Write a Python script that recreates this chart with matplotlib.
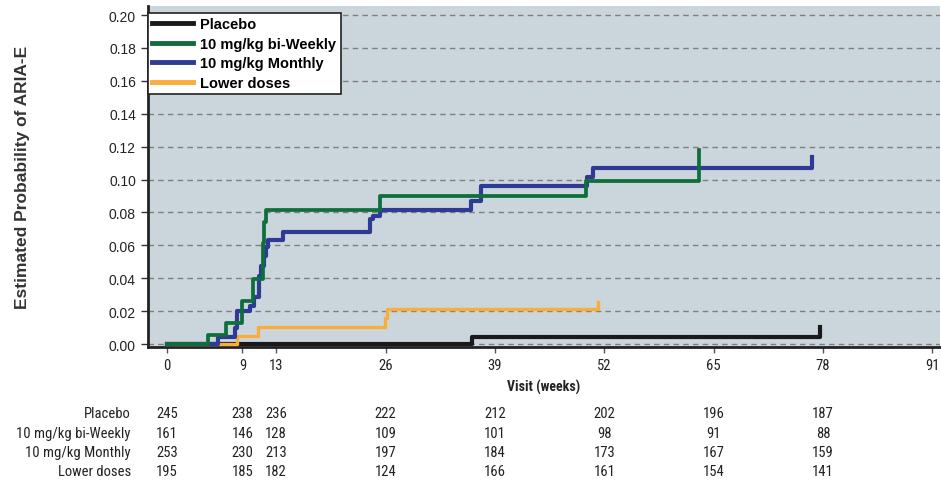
import matplotlib
matplotlib.use('Agg')
from matplotlib import pyplot as plt
from matplotlib.transforms import blended_transform_factory

# Kaplan-Meier style step curves (weeks, cumulative probability)
placebo_t = [0, 36.3, 77.6]
placebo_p = [0, 0.004, 0.0101]

biweekly_t = [0, 4.9, 7.1, 8.9, 10.25, 11.4, 11.6, 11.8, 25.4, 49.8, 63.2]
biweekly_p = [0, 0.0055, 0.0128, 0.0263, 0.0395, 0.0614, 0.074, 0.0816, 0.0898, 0.0993, 0.118]

monthly_t = [0, 6.1, 8.1, 8.3, 9.86, 10.4, 10.96, 11.2, 11.5, 11.76, 12.0, 13.8,
             24.1, 24.5, 25.4, 36.2, 37.3, 50.0, 50.7, 76.7]
monthly_p = [0, 0.004, 0.0097, 0.020, 0.023, 0.0285, 0.0415, 0.0476, 0.0537, 0.0588, 0.0634, 0.0679,
             0.076, 0.078, 0.0816, 0.087, 0.0962, 0.1013, 0.107, 0.114]

lower_t = [0, 8.3, 10.9, 25.9, 26.2, 51.3]
lower_p = [0, 0.005, 0.0101, 0.0156, 0.0213, 0.0253]

# number at risk table
risk_weeks = [0, 9, 13, 26, 39, 52, 65, 78]
risk_groups = ['Placebo', '10 mg/kg bi-Weekly', '10 mg/kg Monthly', 'Lower doses']
risk_placebo = [245, 238, 236, 222, 212, 202, 196, 187]
risk_biweekly = [161, 146, 128, 109, 101, 98, 91, 88]
risk_monthly = [253, 230, 213, 197, 184, 173, 167, 159]
risk_lower = [195, 185, 182, 124, 166, 161, 154, 141]

x_ticks = [0, 9, 13, 26, 39, 52, 65, 78, 91]
y_ticks = [0.00, 0.02, 0.04, 0.06, 0.08, 0.10, 0.12, 0.14, 0.16, 0.18, 0.20]

NARROW = ['Roboto Condensed', 'Liberation Sans']
plt.rcParams['font.family'] = ['Liberation Sans', 'DejaVu Sans']

fig = plt.figure(figsize=(9.41, 4.81), dpi=100)
ax = fig.add_axes([0.157, 0.2765, 0.842, 0.709])
ax.set_facecolor('#cbd5dc')

ax.step(placebo_t, placebo_p, where='post', color='#1a1a1a', lw=3, zorder=3, label='Placebo')
ax.step(biweekly_t, biweekly_p, where='post', color='#0f6e3c', lw=2.7, zorder=6, label='10 mg/kg bi-Weekly')
ax.step(monthly_t, monthly_p, where='post', color='#2e3a94', lw=3, zorder=5, label='10 mg/kg Monthly')
ax.step(lower_t, lower_p, where='post', color='#f9ad3c', lw=2.4, zorder=4, label='Lower doses')

ax.set_xlim(-2.26, 91.9)
ax.set_ylim(-0.0018, 0.2055)
ax.set_yticks(y_ticks)
ax.set_yticklabels([f'{v:.2f}' for v in y_ticks], fontsize=10, color='#222222')
ax.set_xticks(x_ticks)
ax.set_xticklabels([str(v) for v in x_ticks], fontsize=10.5, family=NARROW, color='#222222')
ax.tick_params(axis='y', length=5, width=1, color='#333333')
ax.tick_params(axis='x', length=4, width=1, color='#555555', pad=4)

ax.grid(True, axis='y', linestyle=(0, (4, 3)), color='#7f7f7f', linewidth=1)
ax.set_axisbelow(True)
for side in ['top', 'right']:
    ax.spines[side].set_visible(False)
ax.spines['left'].set_linewidth(2)
ax.spines['bottom'].set_linewidth(2)
ax.spines['left'].set_color('#222222')
ax.spines['bottom'].set_color('#222222')

ax.set_ylabel('Estimated Probability of ARIA-E', fontsize=12.5, fontweight='bold', color='#333333')
ax.yaxis.set_label_coords(-0.149, 0.5)
ax.set_xlabel('Visit (weeks)', fontsize=10, fontweight='bold', family=NARROW,
              color='#222222', labelpad=5)

leg = ax.legend(loc='upper left', bbox_to_anchor=(0.0, 0.98), borderaxespad=0.0,
                fancybox=False, framealpha=1, edgecolor='#222222', handlelength=2.8,
                handletextpad=0.5, borderpad=0.3, labelspacing=0.38,
                prop={'weight': 'bold', 'size': 10.5})
leg.get_frame().set_linewidth(1.2)
for line in leg.get_lines():
    line.set_linewidth(3.5)

# number at risk rows under the axis
trans = blended_transform_factory(ax.transData, fig.transFigure)
rows = [risk_placebo, risk_biweekly, risk_monthly, risk_lower]
row_y = [0.139, 0.098, 0.058, 0.019]
for name, counts, yy in zip(risk_groups, rows, row_y):
    fig.text(0.139, yy, name, ha='right', va='center', fontsize=10.5, family=NARROW, color='#222222')
    for wk, n in zip(risk_weeks, counts):
        ax.text(wk, yy, str(n), transform=trans, ha='center', va='center',
                fontsize=10.5, family=NARROW, color='#222222', clip_on=False)

plt.savefig('out.png', dpi=100)
plt.close('all')
